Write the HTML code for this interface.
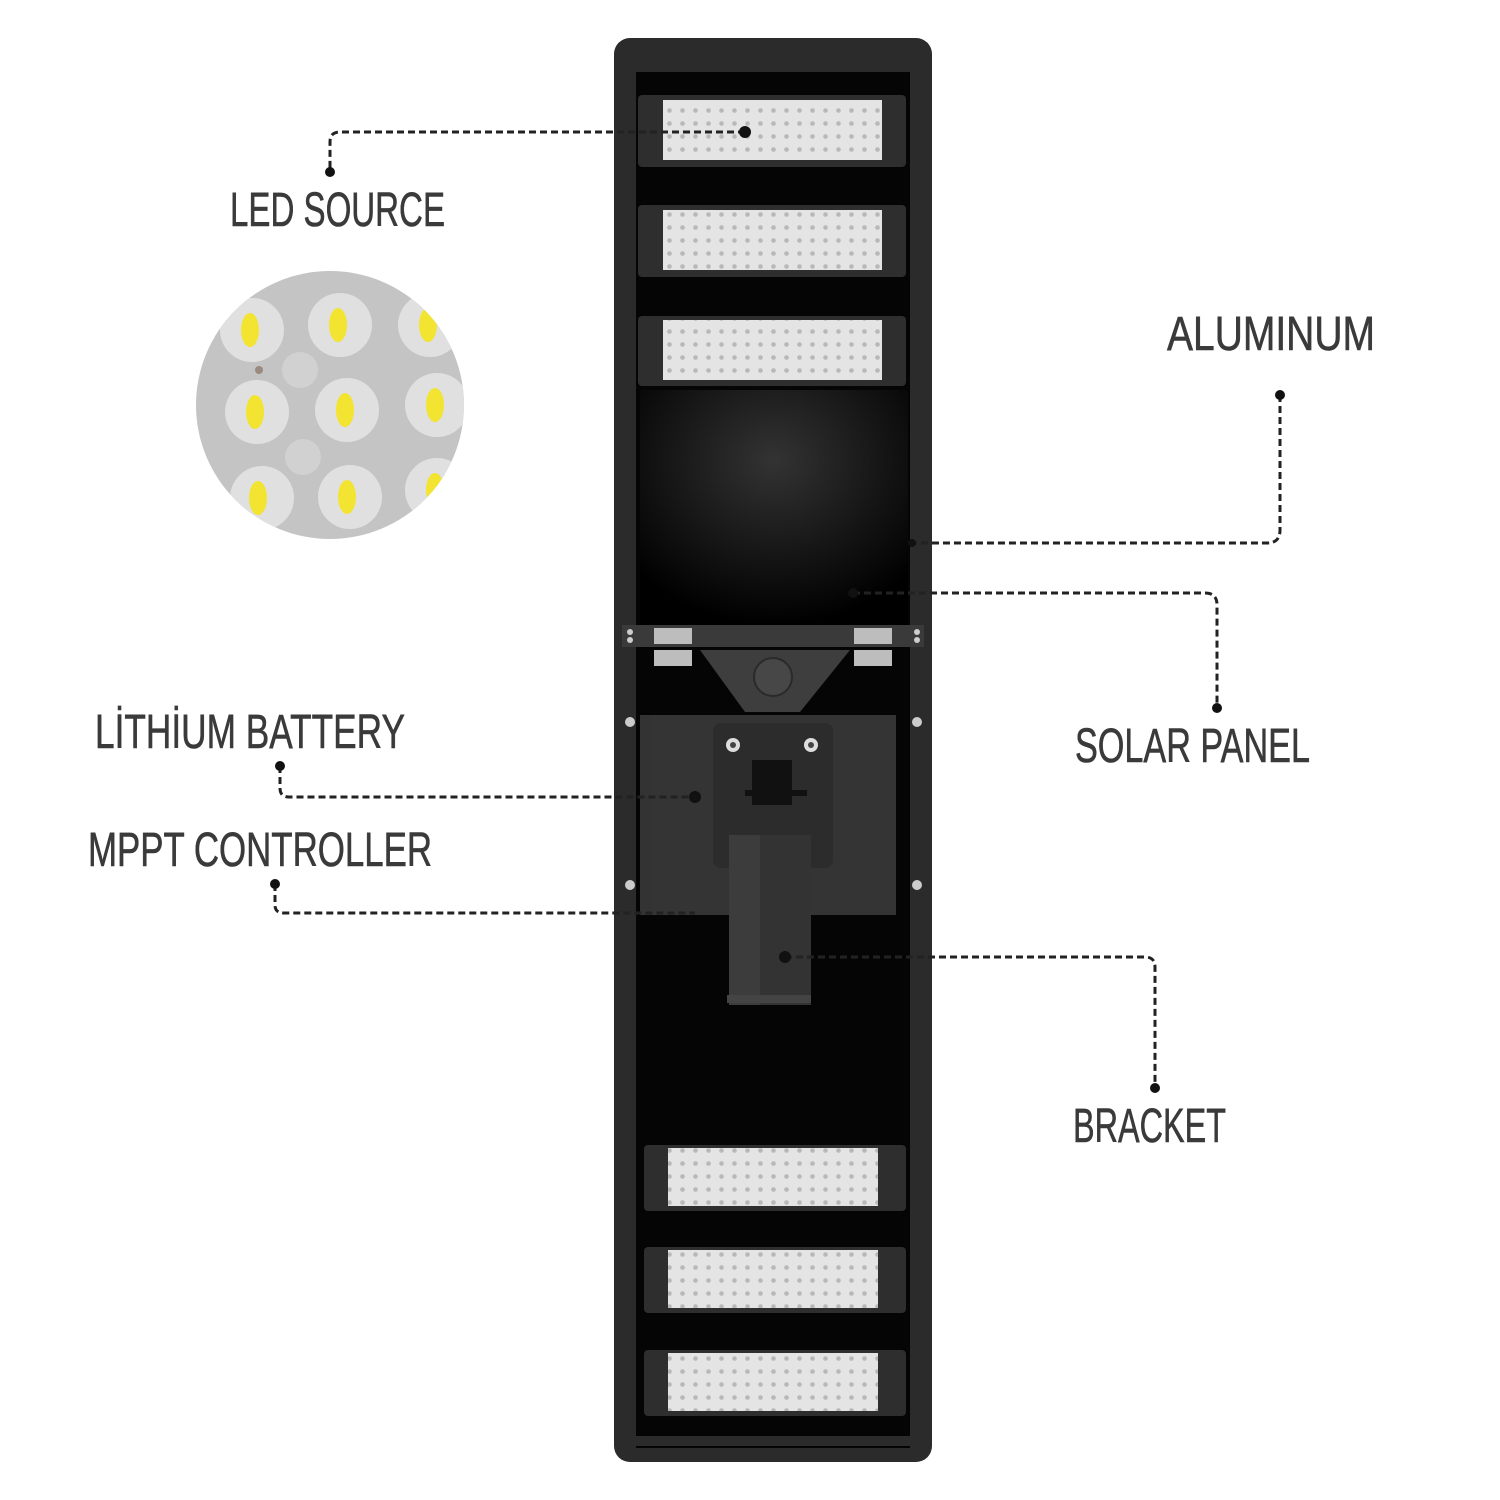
<!DOCTYPE html>
<html><head><meta charset="utf-8"><style>
html,body{margin:0;padding:0;background:#fff;width:1500px;height:1500px;overflow:hidden}
svg{display:block}
.t{font-family:"Liberation Sans Narrow","Liberation Sans",sans-serif;font-size:48px;fill:#3a3a3a;stroke:#3a3a3a;stroke-width:0.6}
.d{fill:none;stroke:#222;stroke-width:3;stroke-dasharray:7 4}
</style></head><body>
<svg width="1500" height="1500" viewBox="0 0 1500 1500" xmlns="http://www.w3.org/2000/svg">
<defs>
<pattern id="led" width="13" height="13" patternUnits="userSpaceOnUse"><rect width="13" height="13" fill="#e4e4e4"/><circle cx="6.5" cy="6.5" r="2.3" fill="#b8b8b8"/></pattern>
<radialGradient id="glow" cx="0.5" cy="0.3" r="0.7"><stop offset="0" stop-color="#333"/><stop offset="1" stop-color="#000"/></radialGradient>
<clipPath id="cc"><circle cx="330" cy="405" r="134"/></clipPath>
</defs>
<rect x="614" y="38" width="318" height="1424" rx="16" fill="#2b2b2b"/>
<rect x="636" y="68" width="274" height="1380" fill="#050505"/>
<rect x="636" y="60" width="274" height="12" fill="#2b2b2b"/>
<rect x="636" y="1436" width="274" height="10" fill="#2b2b2b"/>
<rect x="640" y="390" width="268" height="235" fill="url(#glow)"/>
<g>
<rect x="638" y="95" width="268" height="72" rx="4" fill="#2e2e2e"/><rect x="663" y="100" width="219" height="60" fill="url(#led)"/>
<rect x="638" y="205" width="268" height="72" rx="4" fill="#2e2e2e"/><rect x="663" y="210" width="219" height="60" fill="url(#led)"/>
<rect x="638" y="316" width="268" height="70" rx="4" fill="#2e2e2e"/><rect x="663" y="320" width="219" height="60" fill="url(#led)"/>
<rect x="644" y="1145" width="262" height="66" rx="4" fill="#2e2e2e"/><rect x="668" y="1148" width="210" height="58" fill="url(#led)"/>
<rect x="644" y="1247" width="262" height="66" rx="4" fill="#2e2e2e"/><rect x="668" y="1250" width="210" height="58" fill="url(#led)"/>
<rect x="644" y="1350" width="262" height="66" rx="4" fill="#2e2e2e"/><rect x="668" y="1353" width="210" height="58" fill="url(#led)"/>
</g>
<rect x="622" y="625" width="302" height="22" fill="#3a3a3a"/>
<rect x="654" y="628" width="38" height="16" fill="#bdbdbd"/><rect x="854" y="628" width="38" height="16" fill="#bdbdbd"/>
<rect x="654" y="650" width="38" height="16" fill="#bdbdbd"/><rect x="854" y="650" width="38" height="16" fill="#bdbdbd"/>
<polygon points="700,650 850,650 800,712 745,712" fill="#3e3e3e"/>
<circle cx="773" cy="677" r="19" fill="#474747" stroke="#2a2a2a" stroke-width="2"/>
<rect x="640" y="715" width="12" height="200" fill="#333"/>
<rect x="652" y="715" width="244" height="200" fill="#343434"/>
<rect x="713" y="723" width="120" height="145" rx="8" fill="#2c2c2c"/>
<circle cx="733" cy="745" r="7" fill="#ddd"/><circle cx="733" cy="745" r="3" fill="#444"/>
<circle cx="811" cy="745" r="7" fill="#ddd"/><circle cx="811" cy="745" r="3" fill="#444"/>
<rect x="752" y="760" width="40" height="45" fill="#111"/>
<rect x="745" y="790" width="62" height="6" fill="#111"/>
<rect x="729" y="835" width="82" height="170" fill="#3c3c3c"/>
<rect x="760" y="835" width="51" height="170" fill="#333"/>
<rect x="727" y="995" width="84" height="8" fill="#444"/>
<g fill="#ccc"><circle cx="630" cy="722" r="5"/><circle cx="917" cy="722" r="5"/><circle cx="630" cy="885" r="5"/><circle cx="917" cy="885" r="5"/><circle cx="630" cy="632" r="3"/><circle cx="917" cy="632" r="3"/><circle cx="630" cy="640" r="3"/><circle cx="917" cy="640" r="3"/></g>
<g clip-path="url(#cc)">
<rect x="190" y="265" width="290" height="290" fill="#c4c4c4"/>
<g fill="#e6e6e6" opacity="0.85">
<circle cx="252" cy="330" r="32"/><circle cx="340" cy="325" r="32"/><circle cx="430" cy="325" r="32"/>
<circle cx="257" cy="412" r="32"/><circle cx="347" cy="410" r="32"/><circle cx="437" cy="405" r="32"/>
<circle cx="262" cy="498" r="32"/><circle cx="350" cy="497" r="32"/><circle cx="437" cy="490" r="32"/>
<circle cx="300" cy="370" r="18" fill="#d4d4d4"/><circle cx="303" cy="457" r="18" fill="#d4d4d4"/>
</g>
<g fill="#f2e430">
<ellipse cx="250" cy="330" rx="9" ry="17"/><ellipse cx="338" cy="325" rx="9" ry="17"/><ellipse cx="428" cy="325" rx="9" ry="17"/>
<ellipse cx="255" cy="412" rx="9" ry="17"/><ellipse cx="345" cy="410" rx="9" ry="17"/><ellipse cx="435" cy="405" rx="9" ry="17"/>
<ellipse cx="258" cy="498" rx="9" ry="17"/><ellipse cx="347" cy="497" rx="9" ry="17"/><ellipse cx="435" cy="490" rx="9" ry="17"/>
</g>
<circle cx="259" cy="370" r="4" fill="#9a8a80"/>
</g>
<path class="d" d="M745,132 H340 Q330,132 330,142 V172"/>
<circle cx="745" cy="132" r="6" fill="#111"/><circle cx="330" cy="172" r="5" fill="#111"/>
<path class="d" d="M1280,395 V530 Q1280,543 1267,543 H910"/>
<circle cx="1280" cy="395" r="5" fill="#111"/><circle cx="912" cy="543" r="4" fill="#111"/>
<path class="d" d="M853,593 H1205 Q1217,593 1217,605 V708"/>
<circle cx="853" cy="593" r="5" fill="#111"/><circle cx="1217" cy="708" r="5" fill="#111"/>
<path class="d" d="M280,766 V788 Q280,797 289,797 H695"/>
<circle cx="280" cy="766" r="5" fill="#111"/><circle cx="695" cy="797" r="6" fill="#111"/>
<path class="d" d="M275,884 V905 Q275,913 284,913 H695"/>
<circle cx="275" cy="884" r="5" fill="#111"/>
<path class="d" d="M785,957 H1145 Q1155,957 1155,967 V1088"/>
<circle cx="785" cy="957" r="6" fill="#111"/><circle cx="1155" cy="1088" r="5" fill="#111"/>
<text class="t" x="230" y="226" textLength="215" lengthAdjust="spacingAndGlyphs">LED SOURCE</text>
<text class="t" x="1167" y="350" textLength="208" lengthAdjust="spacingAndGlyphs">ALUMINUM</text>
<text class="t" x="95" y="748" textLength="310" lengthAdjust="spacingAndGlyphs">LİTHİUM BATTERY</text>
<text class="t" x="1075" y="762" textLength="235" lengthAdjust="spacingAndGlyphs">SOLAR PANEL</text>
<text class="t" x="88" y="866" textLength="344" lengthAdjust="spacingAndGlyphs">MPPT CONTROLLER</text>
<text class="t" x="1073" y="1142" textLength="153" lengthAdjust="spacingAndGlyphs">BRACKET</text>
</svg>
</body></html>
